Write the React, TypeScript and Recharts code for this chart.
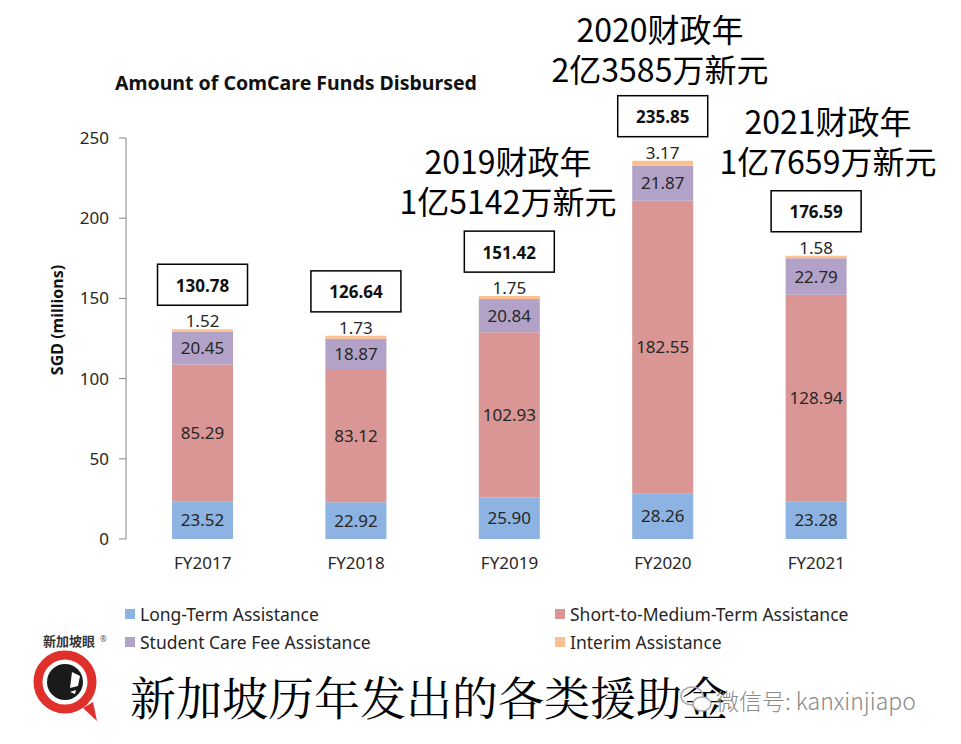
import React from "react";
import { BarChart, Bar, XAxis, YAxis, LabelList, Legend } from "recharts";

// ── Data (SGD millions) ─────────────────────────────────────────────────────
const YEARS = ["FY2017", "FY2018", "FY2019", "FY2020", "FY2021"];
const LONG_TERM = [23.52, 22.92, 25.9, 28.26, 23.28];
const SHORT_MEDIUM = [85.29, 83.12, 102.93, 182.55, 128.94];
const STUDENT_CARE = [20.45, 18.87, 20.84, 21.87, 22.79];
const INTERIM = [1.52, 1.73, 1.75, 3.17, 1.58];
const TOTALS = [130.78, 126.64, 151.42, 235.85, 176.59];
const Y_TICKS = [0, 50, 100, 150, 200, 250];
const EDGE_TICKS = [0, 1, 2, 3, 4, 5];
const SERIES_NAMES = [
    "Long-Term Assistance",
    "Short-to-Medium-Term Assistance",
    "Student Care Fee Assistance",
    "Interim Assistance",
];

const ANNOTATIONS = [
    { lines: ["2019财政年", "1亿5142万新元"], x: 508, y: 140 },
    { lines: ["2020财政年", "2亿3585万新元"], x: 660, y: 8 },
    { lines: ["2021财政年", "1亿7659万新元"], x: 828, y: 100 },
];

const COLORS = {
    longTerm: "#8DB3E2",
    shortMedium: "#D99694",
    student: "#B3A2C7",
    interim: "#FAC090",
};

const FONT = "'Noto Sans', 'Noto Sans CJK SC', sans-serif";
const CJK = "'Noto Sans CJK SC', 'Noto Sans', sans-serif";

const data = YEARS.map((year, i) => ({
    year,
    longTerm: LONG_TERM[i],
    shortMedium: SHORT_MEDIUM[i],
    student: STUDENT_CARE[i],
    interim: INTERIM[i],
    total: TOTALS[i],
}));

const fmt = (v: unknown) => Number(v).toFixed(2);

// ── Boxed total above each stack ───────────────────────────────────────────
const TotalBox = (props: any) => {
    const { x, y, width, value } = props;
    const cx = x + width / 2;
    const top = y - 65;
    return (
        <g>
            <rect x={cx - 45} y={top} width={90} height={41} fill="#fff" stroke="#000" strokeWidth={1.5} />
            <text x={cx} y={top + 21} textAnchor="middle" dominantBaseline="central"
                fontFamily={FONT} fontSize={17} fontWeight={700} fill="#111">
                {fmt(value)}
            </text>
        </g>
    );
};

// ── Two-column legend, fixed order ─────────────────────────────────────────
const LegendGrid = ({ payload }: any) => {
    const items = [...(payload || [])].sort(
        (a: any, b: any) => SERIES_NAMES.indexOf(a.value) - SERIES_NAMES.indexOf(b.value)
    );
    return (
        <div style={{ display: "grid", gridTemplateColumns: "430px 430px", rowGap: 6, fontFamily: FONT, fontSize: 17.5, color: "#262626" }}>
            {items.map((p: any) => (
                <div key={p.value} style={{ display: "flex", alignItems: "center", height: 22 }}>
                    <span style={{ width: 10, height: 10, background: p.color, marginRight: 5, display: "inline-block" }} />
                    {p.value}
                </div>
            ))}
        </div>
    );
};

const Logo = () => (
    <svg width={140} height={124} style={{ position: "absolute", left: 0, top: 620 }}>
        <text x={69} y={26} textAnchor="middle" fontFamily={CJK} fontSize={13} fontWeight={700} fill="#333">新加坡眼</text>
        <text x={100} y={22} fontFamily={FONT} fontSize={8} fill="#555">®</text>
        <path d="M 83 88 L 97 101 L 93 82 Z" fill="#E0302B" />
        <circle cx={65} cy={62} r={27} fill="#fff" stroke="#E0302B" strokeWidth={9} />
        <circle cx={65} cy={62} r={18} fill="#1a1a1a" />
        <path d="M 72 52 L 80 56 L 78 66 L 70 68 Z" fill="#fff" />
        <path d="M 70 72 L 76 70 L 75 74 Z" fill="#fff" />
    </svg>
);

export default function App() {
    return (
        <div style={{ position: "absolute", left: 0, top: 0, width: 961, height: 744, background: "#fff", overflow: "hidden" }}>
            <div style={{ position: "absolute", left: 115, top: 69, fontFamily: FONT, fontSize: 19.5, fontWeight: 700, color: "#111", whiteSpace: "nowrap" }}>
                Amount of ComCare Funds Disbursed
            </div>
            <div style={{ position: "absolute", left: 57, top: 320, transform: "translate(-50%, -50%) rotate(-90deg)", fontFamily: FONT, fontSize: 16, fontWeight: 700, color: "#111", whiteSpace: "nowrap" }}>
                SGD (millions)
            </div>

            <BarChart width={961} height={744} data={data}
                margin={{ top: 138, right: 68, bottom: 175, left: 66 }}
                barCategoryGap="30%">
                <XAxis xAxisId="edges" type="number" domain={[0, 5]} ticks={EDGE_TICKS}
                    tick={false} tickSize={8} height={0} allowDataOverflow
                    axisLine={{ stroke: "#868686" }} tickLine={{ stroke: "#868686" }} />
                <XAxis xAxisId="cat" dataKey="year" axisLine={false} tickLine={false}
                    tickSize={0} tickMargin={18} height={30}
                    tick={{ fontFamily: FONT, fontSize: 17, fill: "#262626" }} />
                <YAxis domain={[0, 250]} ticks={Y_TICKS} width={60} tickSize={7} tickMargin={10}
                    axisLine={{ stroke: "#868686" }} tickLine={{ stroke: "#868686" }}
                    tick={{ fontFamily: FONT, fontSize: 17, fill: "#262626" }} />
                <Legend layout="horizontal" verticalAlign="middle" align="center"
                    wrapperStyle={{ left: 125, top: 603, width: 870 }} content={<LegendGrid />} />
                <Bar xAxisId="cat" dataKey="longTerm" name={SERIES_NAMES[0]} stackId="a" fill={COLORS.longTerm} isAnimationActive={false}>
                    <LabelList dataKey="longTerm" position="center" formatter={fmt} fill="#262626" fontSize={17} fontFamily={FONT} />
                </Bar>
                <Bar xAxisId="cat" dataKey="shortMedium" name={SERIES_NAMES[1]} stackId="a" fill={COLORS.shortMedium} isAnimationActive={false}>
                    <LabelList dataKey="shortMedium" position="center" formatter={fmt} fill="#262626" fontSize={17} fontFamily={FONT} />
                </Bar>
                <Bar xAxisId="cat" dataKey="student" name={SERIES_NAMES[2]} stackId="a" fill={COLORS.student} isAnimationActive={false}>
                    <LabelList dataKey="student" position="center" formatter={fmt} fill="#262626" fontSize={17} fontFamily={FONT} />
                </Bar>
                <Bar xAxisId="cat" dataKey="interim" name={SERIES_NAMES[3]} stackId="a" fill={COLORS.interim} isAnimationActive={false}>
                    <LabelList dataKey="interim" position="top" offset={2} formatter={fmt} fill="#262626" fontSize={17} fontFamily={FONT} />
                    <LabelList dataKey="total" content={<TotalBox />} />
                </Bar>
            </BarChart>

            {ANNOTATIONS.map((a) => (
                <div key={a.lines[0]} style={{ position: "absolute", left: a.x - 150, top: a.y, width: 300, textAlign: "center", fontFamily: CJK, fontSize: 32, lineHeight: "40px", color: "#000" }}>
                    {a.lines.map((l) => <div key={l}>{l}</div>)}
                </div>
            ))}

            <Logo />
            <div style={{ position: "absolute", left: 130, top: 666, fontFamily: "'Noto Serif CJK SC', 'Noto Sans CJK SC', serif", fontSize: 46, lineHeight: "58px", color: "#000", whiteSpace: "nowrap" }}>
                新加坡历年发出的各类援助金
            </div>
            <svg width={40} height={40} style={{ position: "absolute", left: 678, top: 680 }}>
                <ellipse cx={14} cy={16} rx={11} ry={9} fill="none" stroke="#aaa" strokeWidth={1.5} />
                <ellipse cx={24} cy={24} rx={9} ry={7} fill="#fff" stroke="#aaa" strokeWidth={1.5} />
            </svg>
            <div style={{ position: "absolute", left: 716, top: 683, fontFamily: CJK, fontSize: 23, fontWeight: 300, color: "#8a8a8a", whiteSpace: "nowrap" }}>
                微信号: kanxinjiapo
            </div>
        </div>
    );
}
